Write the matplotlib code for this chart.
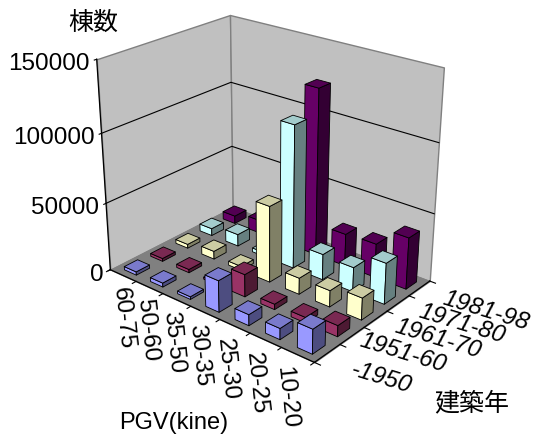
import numpy as np
import matplotlib
matplotlib.use('Agg')
import matplotlib.pyplot as plt
from mpl_toolkits.mplot3d.art3d import Poly3DCollection
from mpl_toolkits.mplot3d import proj3d

plt.rcParams['font.family'] = ['Liberation Sans', 'Noto Sans CJK JP', 'DejaVu Sans']

# Buildings by peak ground velocity band and construction period
pgv_bands = ['60-75', '50-60', '35-50', '30-35', '25-30', '20-25', '10-20']
periods = ['-1950', '1951-60', '1961-70', '1971-80', '1981-98']

built_pre1950 = [2500, 3000, 2000, 23000, 8000, 8000, 17500]
built_1951_60 = [2200, 2500, 1500, 16500, 4000, 4000, 8000]
built_1961_70 = [3000, 6000, 3000, 56000, 12000, 12000, 16000]
built_1971_80 = [5500, 9000, 3000, 105000, 19000, 18000, 30000]
built_1981_98 = [6000, 10000, 5000, 123000, 24000, 25000, 38000]
series = [built_pre1950, built_1951_60, built_1961_70, built_1971_80, built_1981_98]

front_colors = ['#9999FF', '#993366', '#FFFFCC', '#CCFFFF', '#660066']
z_ticks = [0, 50000, 100000, 150000]
z_top = 150000

W, H = 533, 435
fig = plt.figure(figsize=(W / 100, H / 100), dpi=100, facecolor='white')
ax = fig.add_axes([0, 0, 1, 1], projection='3d', computed_zorder=False)
ax.set_xlim(0, 7, view_margin=0)
ax.set_ylim(0, 5, view_margin=0)
ax.set_zlim(0, z_top, view_margin=0)
ax.view_init(elev=24.3527, azim=-50.2087)
ax.set_box_aspect((1.1665, 0.8369, 1), zoom=3.545)
ax.set_proj_type('persp', focal_length=1.9110)
ax.set_axis_off()

# Place the square axes so one projected unit spans the wanted number of pixels
scale, off_x, off_y = 601.69, 268.56, 174.72
(u0, v0), (u1, v1) = ax.transLimits.inverted().transform([(0, 0), (1, 1)])
left = off_x + scale * u0
bottom = H - (off_y - scale * v0)
ax.set_position([left / W, bottom / H, scale * (u1 - u0) / W, scale * (v1 - v0) / H])


def to_px(x, y, z):
    """Projected position of a data point, in pixels from the top-left corner."""
    u, v, _ = proj3d.proj_transform(x, y, z, ax.get_proj())
    return off_x + scale * u, off_y - scale * v


def label(px, py, s, **kw):
    fig.text(px / W, 1 - py / H, s, **kw)


def face(corners, color, z, edge='black', lw=0.6):
    coll = Poly3DCollection([corners], facecolors=color, edgecolors=edge,
                            linewidths=lw, zorder=z)
    ax.add_collection3d(coll, autolim=False)
    coll.set_clip_on(False)


def line(xs, ys, zs, color='black', lw=0.8, z=3):
    ax.plot(xs, ys, zs, color=color, lw=lw, zorder=z, clip_on=False)


def shade(color, k):
    r, g, b = matplotlib.colors.to_rgb(color)
    return (r * k, g * k, b * k)


# Walls and floor
face([(0, 0, 0), (0, 5, 0), (0, 5, z_top), (0, 0, z_top)], '#C0C0C0', 1, '#808080', 1.0)
face([(0, 5, 0), (7, 5, 0), (7, 5, z_top), (0, 5, z_top)], '#C0C0C0', 1, '#808080', 1.0)
face([(0, 0, 0), (7, 0, 0), (7, 5, 0), (0, 5, 0)], '#808080', 1, '#808080', 0.8)

for z in z_ticks[1:3]:
    line([0, 0, 7], [0, 5, 5], [z, z, z], z=2)

# Axis lines with tick marks
line([0, 0], [0, 0], [0, z_top], lw=0.9)
line([0, 7, 7], [0, 0, 5], [0, 0, 0], lw=0.9)
for z in z_ticks:
    line([0, 0], [0, -0.08], [z, z])
for i in range(8):
    line([i, i], [0, -0.14], [0, 0])
for j in range(6):
    line([7, 7.18], [j, j], [0, 0])

# Bars, painted from the far corner towards the viewer
bar_w, bar_d = 0.46, 0.5
order = 10
for j in range(len(periods) - 1, -1, -1):
    for i in range(len(pgv_bands)):
        h = series[j][i]
        x0, x1 = i + (1 - bar_w) / 2, i + (1 + bar_w) / 2
        y0, y1 = j + (1 - bar_d) / 2, j + (1 + bar_d) / 2
        c = front_colors[j]
        face([(x0, y0, 0), (x1, y0, 0), (x1, y0, h), (x0, y0, h)], c, order)
        face([(x1, y0, 0), (x1, y1, 0), (x1, y1, h), (x1, y0, h)], shade(c, 0.5), order)
        face([(x0, y0, h), (x1, y0, h), (x1, y1, h), (x0, y1, h)], shade(c, 0.8), order)
        order += 1

# Tick labels, anchored to the projected axes
fs = 17.5
for z in z_ticks:
    px, py = to_px(0, 0, z)
    label(px - 7, py + 4, f'{z}', fontsize=fs, ha='right', va='center')
for i, name in enumerate(pgv_bands):
    px, py = to_px(i + 0.5, 0, 0)
    label(px - 3 - 2 * i, py + 11, name, fontsize=fs, ha='left', va='center', rotation=-84,
          rotation_mode='anchor')
year_shift_x = [24, 8, 20, 21, 24]
year_shift_y = [14, 3, 6, 6, 8]
for j, name in enumerate(periods):
    px, py = to_px(7, j + 0.5, 0)
    label(px + year_shift_x[j], py + year_shift_y[j], name, fontsize=fs, style='italic',
          ha='left', va='center', rotation=-17, rotation_mode='anchor')

# Axis titles
label(93, 23, '棟数', fontsize=18, ha='center', va='center')
label(472, 403, '建築年', fontsize=18, ha='center', va='center')
label(174, 423, 'PGV(kine)', fontsize=17, ha='center', va='center')

fig.savefig('out.png', dpi=100)
